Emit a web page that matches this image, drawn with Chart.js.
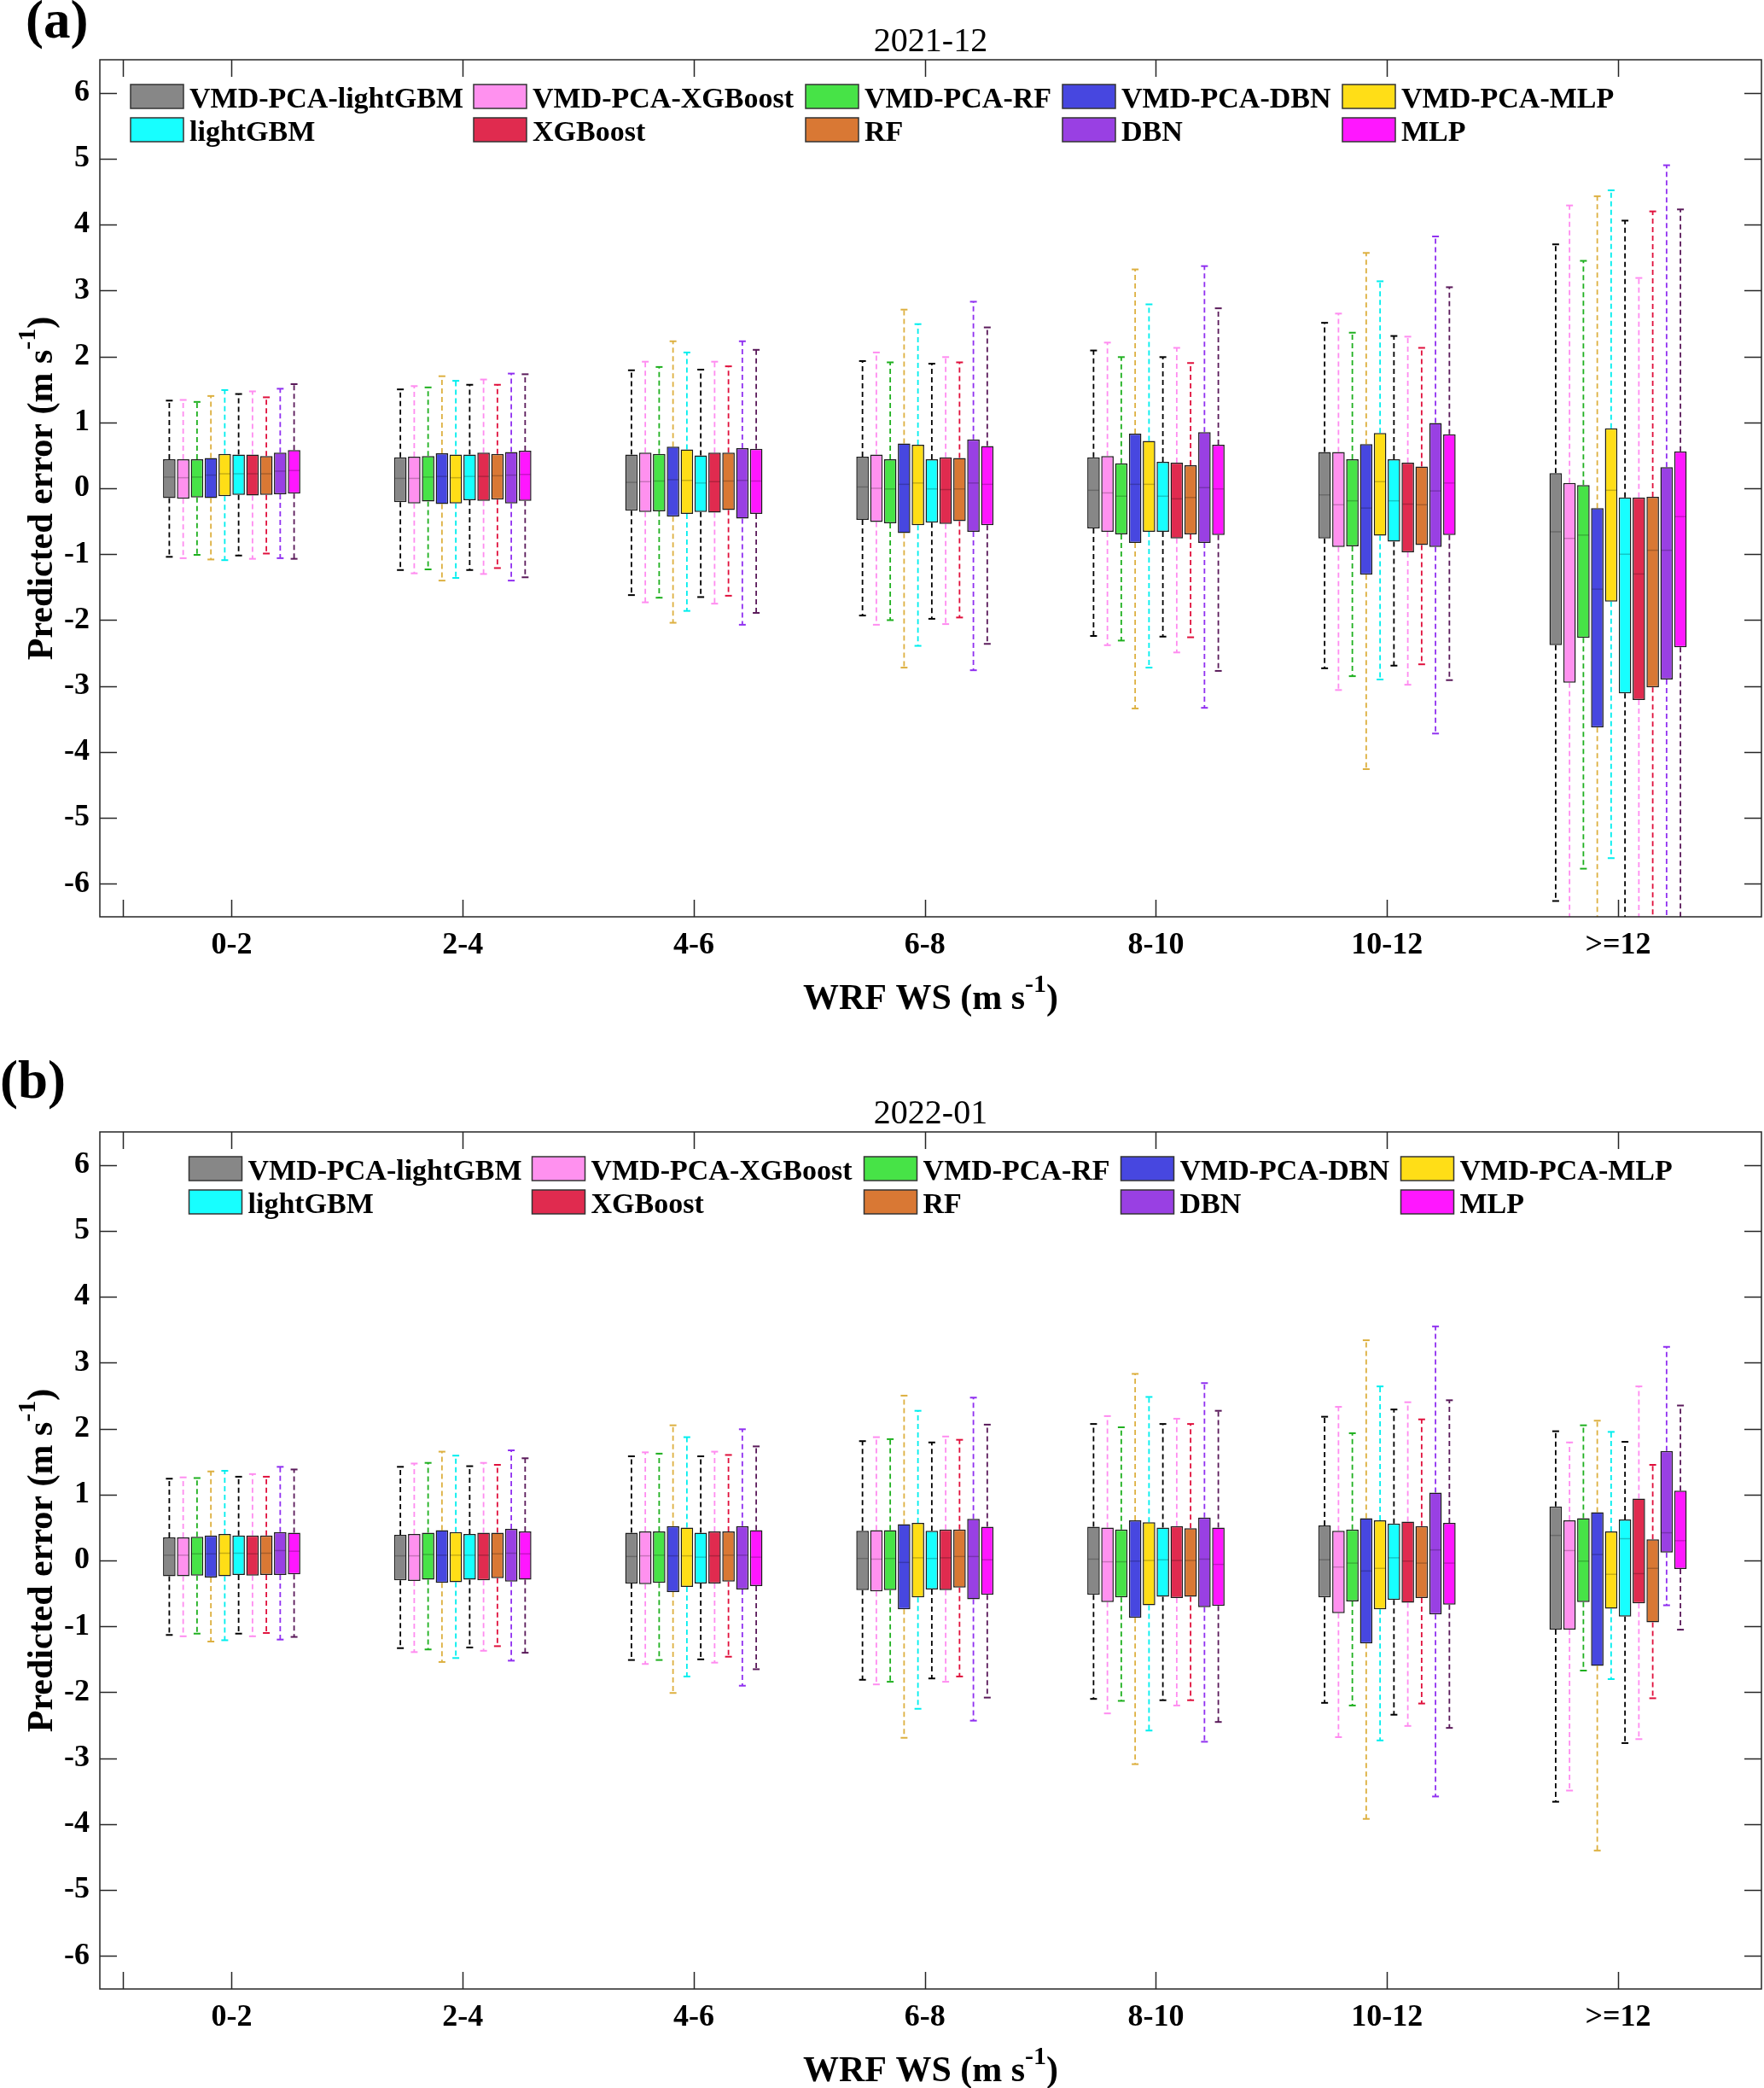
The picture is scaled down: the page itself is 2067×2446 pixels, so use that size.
<!DOCTYPE html>
<html>
<head>
<meta charset="utf-8">
<script src="https://cdn.jsdelivr.net/npm/chart.js@4.4.1/dist/chart.umd.min.js"></script>
<style>
html,body{margin:0;padding:0;background:#fff;}
canvas{display:block;}
</style>
</head>
<body>
<canvas id="cA" width="2067" height="1226"></canvas>
<canvas id="cB" width="2067" height="1220"></canvas>
<script>
// ---------- DATA ----------
const categories = ['0-2', '2-4', '4-6', '6-8', '8-10', '10-12', '>=12'];
const seriesNames = ['VMD-PCA-lightGBM', 'VMD-PCA-XGBoost', 'VMD-PCA-RF', 'VMD-PCA-DBN', 'VMD-PCA-MLP',
                     'lightGBM', 'XGBoost', 'RF', 'DBN', 'MLP'];
const yTickValues = [-6, -5, -4, -3, -2, -1, 0, 1, 2, 3, 4, 5, 6];

// Panel (a) 2021-12 : rows = series, columns = categories
const decQ1 = [
  [-0.15, -0.21, -0.34, -0.48, -0.61, -0.76, -2.38],
  [-0.16, -0.23, -0.36, -0.51, -0.66, -0.89, -2.95],
  [-0.14, -0.20, -0.35, -0.53, -0.70, -0.88, -2.27],
  [-0.15, -0.24, -0.43, -0.68, -0.83, -1.31, -3.63],
  [-0.12, -0.23, -0.39, -0.56, -0.66, -0.72, -1.72],
  [-0.10, -0.18, -0.36, -0.52, -0.66, -0.81, -3.11],
  [-0.11, -0.19, -0.37, -0.54, -0.76, -0.97, -3.21],
  [-0.10, -0.17, -0.33, -0.50, -0.70, -0.86, -3.02],
  [-0.09, -0.23, -0.46, -0.66, -0.83, -0.89, -2.90],
  [-0.08, -0.19, -0.39, -0.56, -0.71, -0.71, -2.41]
];
const decQ3 = [
  [0.44, 0.47, 0.51, 0.48, 0.47, 0.55, 0.23],
  [0.44, 0.48, 0.54, 0.51, 0.49, 0.55, 0.08],
  [0.44, 0.49, 0.52, 0.44, 0.38, 0.44, 0.05],
  [0.46, 0.53, 0.63, 0.68, 0.83, 0.67, -0.30],
  [0.52, 0.51, 0.59, 0.66, 0.72, 0.84, 0.91],
  [0.51, 0.51, 0.50, 0.44, 0.40, 0.44, -0.14],
  [0.51, 0.54, 0.54, 0.47, 0.39, 0.39, -0.14],
  [0.49, 0.52, 0.54, 0.46, 0.35, 0.33, -0.13],
  [0.54, 0.55, 0.61, 0.74, 0.85, 0.99, 0.32],
  [0.58, 0.57, 0.60, 0.64, 0.66, 0.82, 0.56]
];
const decMed = [
  [0.17, 0.15, 0.09, 0.02, -0.03, -0.10, -0.66],
  [0.16, 0.15, 0.10, 0.00, -0.07, -0.25, -0.76],
  [0.17, 0.17, 0.11, -0.01, -0.12, -0.19, -0.71],
  [0.20, 0.18, 0.13, 0.06, 0.06, -0.30, -1.53],
  [0.22, 0.16, 0.12, 0.08, 0.06, 0.10, -0.03],
  [0.22, 0.18, 0.08, -0.01, -0.12, -0.19, -1.00],
  [0.22, 0.18, 0.10, -0.02, -0.16, -0.24, -1.30],
  [0.22, 0.19, 0.11, -0.01, -0.14, -0.25, -0.94],
  [0.26, 0.20, 0.12, 0.08, 0.01, -0.04, -0.94],
  [0.27, 0.21, 0.11, 0.06, -0.01, 0.08, -0.43]
];
const decLo = [
  [-1.04, -1.24, -1.62, -1.93, -2.24, -2.73, -6.26],
  [-1.06, -1.29, -1.73, -2.07, -2.38, -3.06, -7.00],
  [-1.01, -1.23, -1.66, -2.00, -2.31, -2.85, -5.77],
  [-1.08, -1.40, -2.04, -2.72, -3.34, -4.26, -7.00],
  [-1.09, -1.36, -1.86, -2.39, -2.72, -2.90, -5.61],
  [-1.02, -1.24, -1.65, -1.98, -2.25, -2.69, -7.00],
  [-1.07, -1.30, -1.75, -2.06, -2.49, -2.98, -7.00],
  [-0.99, -1.21, -1.63, -1.96, -2.26, -2.67, -7.00],
  [-1.06, -1.40, -2.07, -2.76, -3.33, -3.72, -7.00],
  [-1.07, -1.35, -1.89, -2.36, -2.77, -2.91, -7.00]
];
const decHi = [
  [1.33, 1.50, 1.79, 1.93, 2.09, 2.51, 3.70],
  [1.34, 1.55, 1.92, 2.06, 2.21, 2.65, 4.29],
  [1.31, 1.53, 1.84, 1.91, 1.99, 2.36, 3.45],
  [1.40, 1.70, 2.23, 2.71, 3.32, 3.57, 4.43],
  [1.49, 1.63, 2.06, 2.49, 2.79, 3.14, 4.52],
  [1.43, 1.57, 1.80, 1.89, 1.99, 2.31, 4.06],
  [1.47, 1.65, 1.92, 1.99, 2.13, 2.30, 3.19],
  [1.38, 1.57, 1.85, 1.91, 1.90, 2.13, 4.20],
  [1.51, 1.74, 2.23, 2.83, 3.37, 3.82, 4.90],
  [1.58, 1.73, 2.10, 2.44, 2.73, 3.05, 4.23]
];

// Panel (b) 2022-01
const janQ1 = [
  [-0.24, -0.30, -0.35, -0.45, -0.52, -0.56, -1.05],
  [-0.24, -0.31, -0.36, -0.47, -0.63, -0.80, -1.05],
  [-0.23, -0.29, -0.34, -0.45, -0.56, -0.62, -0.63],
  [-0.26, -0.34, -0.48, -0.74, -0.87, -1.26, -1.60],
  [-0.24, -0.33, -0.40, -0.56, -0.68, -0.74, -0.73],
  [-0.22, -0.29, -0.35, -0.44, -0.55, -0.60, -0.85],
  [-0.23, -0.30, -0.35, -0.45, -0.57, -0.64, -0.65],
  [-0.22, -0.27, -0.32, -0.41, -0.55, -0.57, -0.94],
  [-0.22, -0.32, -0.44, -0.59, -0.71, -0.82, 0.12],
  [-0.21, -0.29, -0.39, -0.52, -0.69, -0.67, -0.13]
];
const janQ3 = [
  [0.35, 0.39, 0.42, 0.45, 0.51, 0.53, 0.82],
  [0.35, 0.40, 0.44, 0.46, 0.50, 0.45, 0.61],
  [0.36, 0.42, 0.44, 0.46, 0.47, 0.47, 0.64],
  [0.38, 0.46, 0.52, 0.55, 0.61, 0.64, 0.73],
  [0.40, 0.43, 0.50, 0.57, 0.58, 0.61, 0.44],
  [0.38, 0.40, 0.42, 0.45, 0.50, 0.56, 0.62],
  [0.38, 0.42, 0.44, 0.47, 0.52, 0.59, 0.94],
  [0.38, 0.42, 0.44, 0.47, 0.49, 0.52, 0.32],
  [0.43, 0.48, 0.52, 0.63, 0.65, 1.03, 1.66],
  [0.42, 0.44, 0.46, 0.51, 0.50, 0.57, 1.06]
];
const janMed = [
  [0.08, 0.07, 0.06, 0.03, 0.02, 0.01, 0.38],
  [0.08, 0.07, 0.07, 0.02, -0.02, -0.10, 0.15],
  [0.10, 0.09, 0.08, 0.03, -0.02, -0.04, -0.01],
  [0.10, 0.08, 0.07, -0.03, -0.01, -0.16, 0.09],
  [0.11, 0.08, 0.07, 0.04, 0.00, -0.12, -0.21],
  [0.11, 0.08, 0.05, 0.03, 0.01, 0.04, 0.33],
  [0.10, 0.08, 0.07, 0.04, 0.00, -0.01, -0.20],
  [0.11, 0.10, 0.08, 0.06, 0.00, -0.04, -0.12],
  [0.15, 0.11, 0.08, 0.06, 0.02, 0.16, 0.42],
  [0.14, 0.10, 0.05, 0.01, -0.06, -0.04, 0.30]
];
const janLo = [
  [-1.13, -1.33, -1.51, -1.81, -2.10, -2.16, -3.66],
  [-1.15, -1.39, -1.57, -1.88, -2.32, -2.68, -3.49],
  [-1.11, -1.35, -1.51, -1.84, -2.13, -2.20, -1.67],
  [-1.23, -1.54, -2.01, -2.69, -3.09, -3.92, -4.40],
  [-1.21, -1.48, -1.76, -2.25, -2.58, -2.73, -1.80],
  [-1.11, -1.32, -1.50, -1.79, -2.12, -2.34, -2.77],
  [-1.15, -1.37, -1.55, -1.84, -2.20, -2.51, -2.71],
  [-1.10, -1.30, -1.46, -1.76, -2.12, -2.17, -2.09],
  [-1.20, -1.52, -1.90, -2.43, -2.75, -3.58, -0.68],
  [-1.16, -1.40, -1.65, -2.08, -2.45, -2.54, -1.05]
];
const janHi = [
  [1.24, 1.42, 1.58, 1.81, 2.07, 2.18, 1.96],
  [1.26, 1.47, 1.64, 1.87, 2.19, 2.33, 1.79],
  [1.25, 1.48, 1.62, 1.84, 2.02, 1.93, 2.05],
  [1.35, 1.65, 2.05, 2.50, 2.83, 3.34, 2.12],
  [1.36, 1.59, 1.87, 2.27, 2.48, 2.64, 1.95],
  [1.27, 1.43, 1.58, 1.79, 2.07, 2.29, 1.80],
  [1.31, 1.48, 1.65, 1.88, 2.15, 2.40, 2.64],
  [1.27, 1.45, 1.60, 1.83, 2.07, 2.14, 1.45],
  [1.42, 1.67, 1.99, 2.47, 2.69, 3.55, 3.24],
  [1.38, 1.55, 1.73, 2.06, 2.27, 2.43, 2.35]
];

// ---------- STYLE ----------
const boxColors = ['#878787', '#FF91EF', '#47E347', '#4747E0', '#FFDE17',
                   '#17FFFF', '#E02B4F', '#D97834', '#9940E3', '#FF17FF'];
const whiskerColors = ['#000000', '#FF8CF0', '#1FB01F', '#DDB040', '#00EEEE',
                       '#000000', '#FF8CF0', '#E0103C', '#9030F0', '#5A1A5A'];
const FONT = "'Liberation Serif', 'Times New Roman', serif";
const AXIS_COLOR = '#262626';

function drawRich(ctx, parts, x, y, align) {
  let total = 0;
  parts.forEach(p => { ctx.font = p.font; total += ctx.measureText(p.t).width; });
  let cx = align === 'center' ? x - total / 2 : x;
  ctx.textAlign = 'left';
  ctx.textBaseline = 'alphabetic';
  parts.forEach(p => {
    ctx.font = p.font;
    ctx.fillText(p.t, cx, y + (p.dy || 0));
    cx += ctx.measureText(p.t).width;
  });
}

function makeChart(cfg) {
  const canvas = document.getElementById(cfg.id);
  const datasets = seriesNames.map((name, i) => ({
    label: name,
    data: categories.map((c, j) => ({ x: j + 1, y: [cfg.q1[i][j], cfg.q3[i][j]] })),
    backgroundColor: boxColors[i],
    borderColor: '#1c1c1c',
    borderWidth: 1.5,
    borderSkipped: false,
    barPercentage: 0.9,
    categoryPercentage: 0.6
  }));

  const boxPlugin = {
    id: 'boxExtras',
    beforeDatasetsDraw(chart) {
      const { ctx, chartArea: a } = chart;
      const y = chart.scales.y;
      ctx.save();
      ctx.beginPath();
      ctx.rect(a.left, a.top, a.right - a.left, a.bottom - a.top);
      ctx.clip();
      chart.data.datasets.forEach((ds, i) => {
        const meta = chart.getDatasetMeta(i);
        meta.data.forEach((bar, j) => {
          const x = bar.x;
          ctx.strokeStyle = whiskerColors[i];
          ctx.lineWidth = 1.8;
          ctx.setLineDash([6, 4]);
          [[cfg.q3[i][j], cfg.hi[i][j]], [cfg.q1[i][j], cfg.lo[i][j]]].forEach(([from, to]) => {
            ctx.beginPath();
            ctx.moveTo(x, y.getPixelForValue(from));
            ctx.lineTo(x, y.getPixelForValue(to));
            ctx.stroke();
          });
          ctx.setLineDash([]);
          ctx.lineWidth = 2;
          [cfg.hi[i][j], cfg.lo[i][j]].forEach(v => {
            const py = y.getPixelForValue(v);
            ctx.beginPath();
            ctx.moveTo(x - 4, py);
            ctx.lineTo(x + 4, py);
            ctx.stroke();
          });
        });
      });
      ctx.restore();
    },
    afterDatasetsDraw(chart) {
      const { ctx } = chart;
      const y = chart.scales.y;
      ctx.save();
      chart.data.datasets.forEach((ds, i) => {
        const meta = chart.getDatasetMeta(i);
        meta.data.forEach((bar, j) => {
          const py = y.getPixelForValue(cfg.med[i][j]);
          ctx.strokeStyle = 'rgba(0,0,0,0.22)';
          ctx.lineWidth = 1.5;
          ctx.beginPath();
          ctx.moveTo(bar.x - bar.width / 2 + 1, py);
          ctx.lineTo(bar.x + bar.width / 2 - 1, py);
          ctx.stroke();
        });
      });
      ctx.restore();
    }
  };

  const decoPlugin = {
    id: 'deco',
    afterDraw(chart) {
      const { ctx, chartArea: a } = chart;
      const xs = chart.scales.x, ys = chart.scales.y;
      ctx.save();
      ctx.strokeStyle = AXIS_COLOR;
      ctx.lineWidth = 1.5;
      ctx.strokeRect(a.left, a.top, a.right - a.left, a.bottom - a.top);
      const TL = 20;
      yTickValues.forEach(v => {
        const py = Math.round(ys.getPixelForValue(v)) + 0.5;
        ctx.beginPath();
        ctx.moveTo(a.left, py); ctx.lineTo(a.left + TL, py);
        ctx.moveTo(a.right, py); ctx.lineTo(a.right - TL, py);
        ctx.stroke();
      });
      [0.528, 1, 2, 3, 4, 5, 6, 7].forEach(v => {
        const px = Math.round(xs.getPixelForValue(v)) + 0.5;
        ctx.beginPath();
        ctx.moveTo(px, a.bottom); ctx.lineTo(px, a.bottom - TL);
        ctx.moveTo(px, a.top); ctx.lineTo(px, a.top + TL);
        ctx.stroke();
      });
      ctx.fillStyle = '#000';
      ctx.font = 'bold 63px ' + FONT;
      ctx.textAlign = 'left';
      ctx.textBaseline = 'alphabetic';
      ctx.fillText(cfg.label, cfg.labelX, cfg.labelBaseline);
      ctx.font = '40px ' + FONT;
      ctx.textAlign = 'center';
      ctx.fillText(cfg.title, (a.left + a.right) / 2, a.top - 10);
      const mainF = 'bold 42px ' + FONT, supF = 'bold 30px ' + FONT;
      drawRich(ctx, [
        { t: 'WRF WS (m s', font: mainF },
        { t: '-1', font: supF, dy: -20 },
        { t: ')', font: mainF }
      ], (a.left + a.right) / 2, a.bottom + 108, 'center');
      ctx.save();
      ctx.translate(61, (a.top + a.bottom) / 2);
      ctx.rotate(-Math.PI / 2);
      drawRich(ctx, [
        { t: 'Predicted error (m s', font: mainF },
        { t: '-1', font: supF, dy: -20 },
        { t: ')', font: mainF }
      ], 0, 0, 'center');
      ctx.restore();
      const colOffsets = [0, 402, 791, 1092, 1420];
      ctx.font = 'bold 34px ' + FONT;
      ctx.textAlign = 'left';
      seriesNames.forEach((name, i) => {
        const row = i < 5 ? 0 : 1, col = i % 5;
        const bx = cfg.legendX + colOffsets[col];
        const by = a.top + 29 + row * 39;
        ctx.fillStyle = boxColors[i];
        ctx.fillRect(bx, by, 62, 28);
        ctx.strokeStyle = '#333';
        ctx.lineWidth = 1.5;
        ctx.strokeRect(bx, by, 62, 28);
        ctx.fillStyle = '#000';
        ctx.fillText(name, bx + 69, by + 26.5);
      });
      ctx.restore();
    }
  };

  return new Chart(canvas, {
    type: 'bar',
    data: { datasets },
    plugins: [boxPlugin, decoPlugin],
    options: {
      responsive: false,
      animation: false,
      devicePixelRatio: 1,
      layout: { padding: { top: cfg.plotTop, left: 0, right: 3, bottom: 0 } },
      plugins: { legend: { display: false }, tooltip: { enabled: false }, title: { display: false } },
      scales: {
        x: {
          type: 'linear',
          min: 0.4294,
          max: 7.6205,
          offset: false,
          grid: { display: false, drawTicks: false },
          border: { display: false },
          afterBuildTicks: s => { s.ticks = categories.map((c, j) => ({ value: j + 1 })); },
          afterFit: s => { s.height = cfg.height - cfg.plotBottom; },
          ticks: {
            autoSkip: false,
            maxRotation: 0,
            padding: 12,
            color: '#000',
            font: { family: FONT, size: 36, weight: 'bold' },
            callback: v => categories[Math.round(v) - 1] || ''
          }
        },
        y: {
          type: 'linear',
          min: -6.5,
          max: 6.5,
          grid: { display: false, drawTicks: false },
          border: { display: false },
          afterBuildTicks: s => { s.ticks = yTickValues.map(v => ({ value: v })); },
          afterFit: s => { s.width = 117; },
          ticks: {
            padding: 12,
            color: '#000',
            font: { family: FONT, size: 36, weight: 'bold' },
            callback: v => String(v)
          }
        }
      }
    }
  });
}

makeChart({ id: 'cA', height: 1226, plotTop: 70, plotBottom: 1074, label: '(a)', labelX: 30, labelBaseline: 44,
            title: '2021-12', legendX: 153, q1: decQ1, q3: decQ3, med: decMed, lo: decLo, hi: decHi });
makeChart({ id: 'cB', height: 1220, plotTop: 100, plotBottom: 1104, label: '(b)', labelX: 0, labelBaseline: 60,
            title: '2022-01', legendX: 221.5, q1: janQ1, q3: janQ3, med: janMed, lo: janLo, hi: janHi });
</script>
</body>
</html>
